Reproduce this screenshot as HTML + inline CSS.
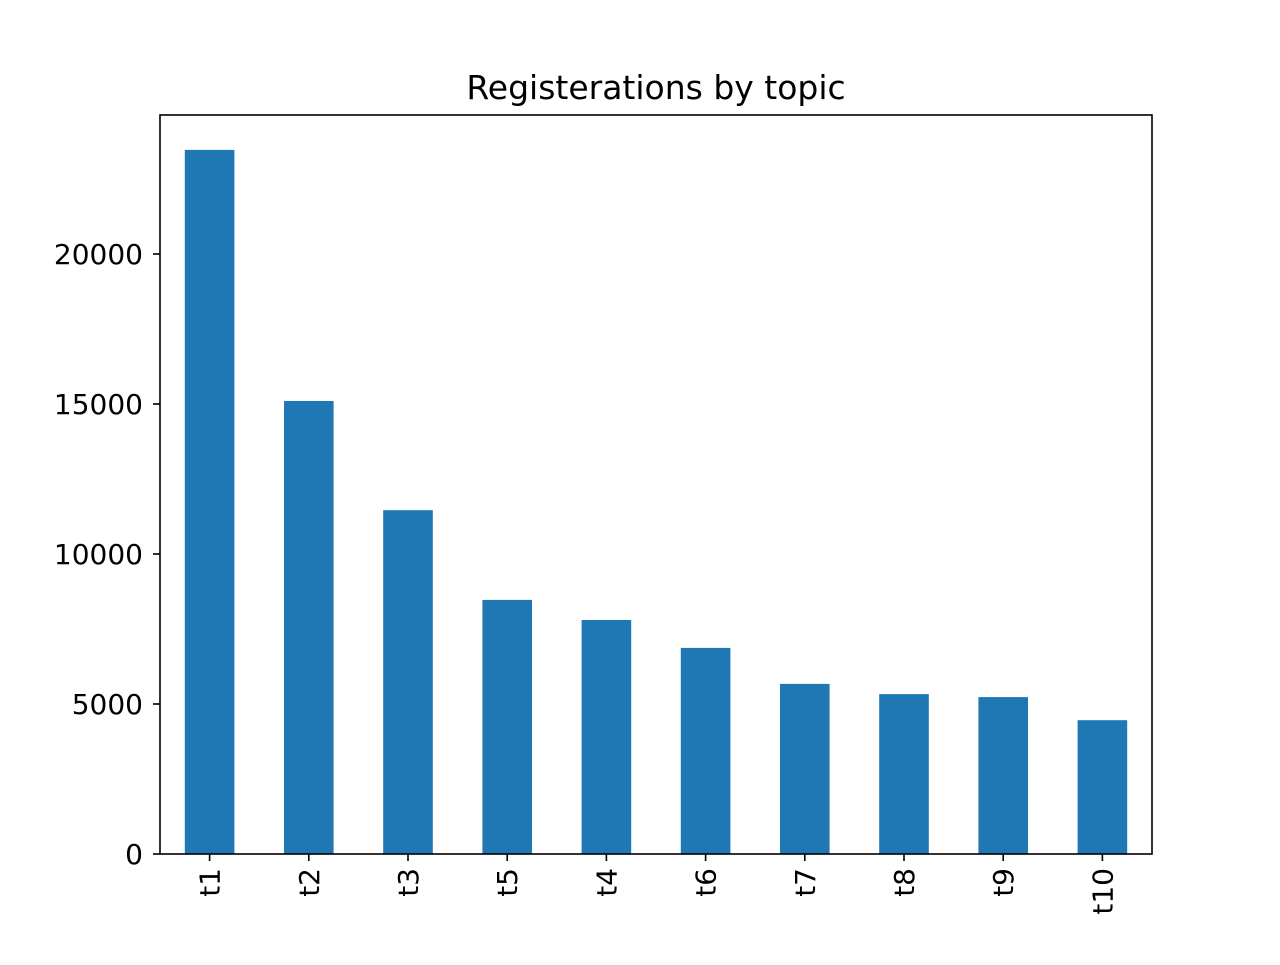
<!DOCTYPE html>
<html><head><meta charset="utf-8"><style>
html,body{margin:0;padding:0;background:#fff;}
svg text{font-family:"DejaVu Sans","Liberation Sans",sans-serif;fill:#000;}
</style></head><body>
<svg id="chart" width="1280" height="960" xmlns="http://www.w3.org/2000/svg">
<rect width="1280" height="960" fill="#fff"/>
<text x="656" y="99" font-size="33" text-anchor="middle">Registerations by topic</text>
<g id="bars"></g><g id="xt"></g><g id="yt"></g>
<rect x="160" y="115" width="992" height="739" fill="none" stroke="#000" stroke-width="1.6"/>
</svg>
<script>
const categories=["t1","t2","t3","t5","t4","t6","t7","t8","t9","t10"];
const values=[23470,15100,11460,8470,7800,6870,5670,5330,5230,4460];
const yTicks=[0,5000,10000,15000,20000];
const yTickLabels=["0","5000","10000","15000","20000"];
const L=160,R=1152,T=115,B=854,YMAX=24633;
const ns="http://www.w3.org/2000/svg";
const y=v=>B-(v/YMAX)*(B-T);
const slot=(R-L)/categories.length;
const x=i=>L+slot*(i+0.5);
const bars=document.getElementById('bars'),xt=document.getElementById('xt'),yt=document.getElementById('yt');
function mk(t,a){const e=document.createElementNS(ns,t);for(const k in a)e.setAttribute(k,a[k]);return e;}
categories.forEach((c,i)=>{
 const r=mk('rect',{x:x(i)-slot/4,y:y(values[i]),width:slot/2,height:B-y(values[i]),fill:'#1f77b4'});
 
 
 bars.appendChild(r);
 const tk=mk('line',{x1:x(i),x2:x(i),y1:B,y2:B+7,stroke:'#000','stroke-width':1.6});
 
 
 xt.appendChild(tk);
 const tx=mk('text',{x:x(i)+10,y:B+14,'font-size':28,'text-anchor':'end',transform:`rotate(-90 ${x(i)+10} ${B+14})`});
 tx.textContent=c;
 
 
 xt.appendChild(tx);
});
yTicks.forEach((v,i)=>{
 const tk=mk('line',{x1:L-7,x2:L,y1:y(v),y2:y(v),stroke:'#000','stroke-width':1.6});
 
 
 yt.appendChild(tk);
 const tx=mk('text',{x:L-17,y:y(v)+10,'font-size':28,'text-anchor':'end'});
 tx.textContent=yTickLabels[i];
 
 
 yt.appendChild(tx);
});
</script>
</body></html>
